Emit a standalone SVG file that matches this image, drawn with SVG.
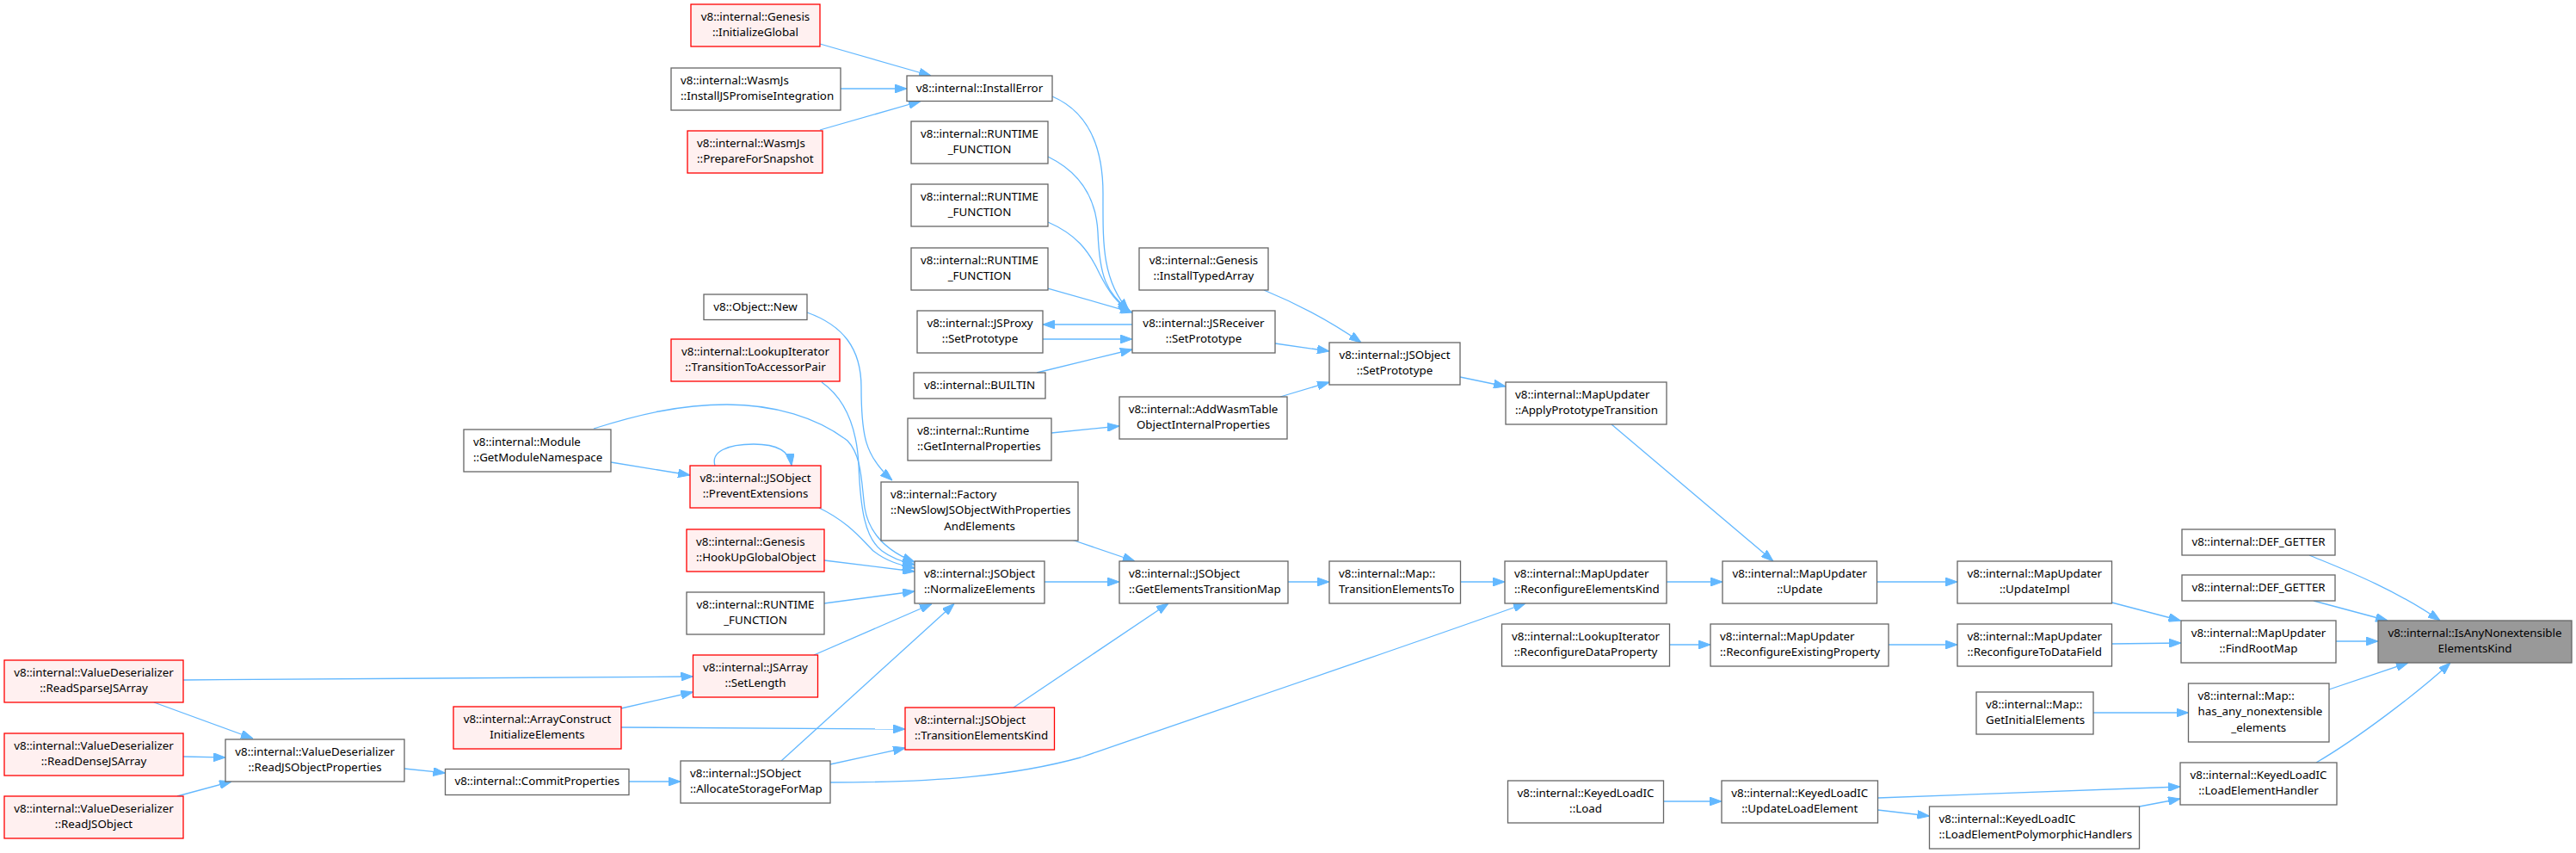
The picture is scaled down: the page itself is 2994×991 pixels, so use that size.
<svg xmlns="http://www.w3.org/2000/svg" width="2994" height="991" viewBox="0 0 2994 991">
<style>
.node rect{fill:#ffffff;stroke:#666666;stroke-width:1.3}
.red rect{fill:#fff0f0;stroke:#ff0000}
.root rect{fill:#999999;stroke:#666666}
text{font-family:"Noto Sans","Open Sans",sans-serif;font-size:13.33px;fill:#000000}
.c{text-anchor:middle}
.l{text-anchor:start}
#edges path{fill:none;stroke:#63b8ff;stroke-width:1.3}
</style>
<defs>
<marker id="ah" viewBox="0 0 14 10" refX="14" refY="5" markerWidth="14" markerHeight="10" markerUnits="userSpaceOnUse" orient="auto">
<path d="M0,0 L14,5 L0,10 Z" fill="#63b8ff" stroke="#63b8ff" stroke-width="1"/>
</marker>
</defs>
<rect x="0" y="0" width="2994" height="991" fill="#ffffff"/>
<g id="edges" marker-end="url(#ah)">
<path marker-end="url(#ah)" d="M953,51 L1082,88"/>
<path marker-end="url(#ah)" d="M977,103 L1054,103"/>
<path marker-end="url(#ah)" d="M953,151 L1070,117.5"/>
<path marker-end="url(#ah)" d="M1223,112 C1265,130 1282,170 1282,225 C1282,280 1280,325 1312,361"/>
<path marker-end="url(#ah)" d="M1218,182 C1255,200 1274,230 1276,270 C1278,320 1285,340 1313,361"/>
<path marker-end="url(#ah)" d="M1218,258 C1250,272 1265,290 1278,318 C1288,338 1298,352 1314,362"/>
<path marker-end="url(#ah)" d="M1218,335 L1316,363"/>
<path marker-end="url(#ah)" d="M1316,377 L1212,377"/>
<path marker-end="url(#ah)" d="M1212,394 L1316,394"/>
<path marker-end="url(#ah)" d="M1205,433 L1316,406"/>
<path marker-end="url(#ah)" d="M1482,399 L1545,408"/>
<path marker-end="url(#ah)" d="M1469,337 Q1530,362 1582,398"/>
<path marker-end="url(#ah)" d="M1488,461 L1545,444"/>
<path marker-end="url(#ah)" d="M1222,503 L1301,495"/>
<path marker-end="url(#ah)" d="M1697,438 L1750,449"/>
<path marker-end="url(#ah)" d="M1873,493 L2061,652"/>
<path marker-end="url(#ah)" d="M2181.5,676 L2275,676"/>
<path marker-end="url(#ah)" d="M1937,676 L2002,676"/>
<path marker-end="url(#ah)" d="M1697.5,676 L1749,676"/>
<path marker-end="url(#ah)" d="M1497,676 L1545,676"/>
<path marker-end="url(#ah)" d="M1214,676 L1301,676"/>
<path marker-end="url(#ah)" d="M1247,627.5 L1319,652"/>
<path marker-end="url(#ah)" d="M1178,822 L1358,701"/>
<path marker-end="url(#ah)" d="M965,909 C1090,909 1180,901 1256,880 C1400,830 1660,742 1773,701"/>
<path marker-end="url(#ah)" d="M731,908 L791,908"/>
<path marker-end="url(#ah)" d="M470,893 L517.5,898"/>
<path marker-end="url(#ah)" d="M179,816 L294,858"/>
<path marker-end="url(#ah)" d="M213,879 L262,880"/>
<path marker-end="url(#ah)" d="M206,925 L269,908"/>
<path marker-end="url(#ah)" d="M213,790 L805.5,786"/>
<path marker-end="url(#ah)" d="M722,823 L805.5,804"/>
<path marker-end="url(#ah)" d="M722,845 L1052,847"/>
<path marker-end="url(#ah)" d="M965,888 L1052,869"/>
<path marker-end="url(#ah)" d="M908,884 L1109,701.5"/>
<path marker-end="url(#ah)" d="M946,761 L1083,701.5"/>
<path marker-end="url(#ah)" d="M958,701 L1063,687"/>
<path marker-end="url(#ah)" d="M958,651 L1063,664"/>
<path marker-end="url(#ah)" d="M952,590 C985,606 1000,625 1015,640 C1030,652 1045,656 1063,660"/>
<path marker-end="url(#ah)" d="M955,444 C985,465 996,500 998,540 C1000,590 1005,625 1025,640 C1037,649 1050,653 1063,656"/>
<path marker-end="url(#ah)" d="M690,498 C740,482 790,470 845,470 C900,470 950,485 985,512 C1002,530 1001,560 1005,590 C1010,620 1030,640 1063,653"/>
<path marker-end="url(#ah)" d="M938,363 C980,378 1001,405 1001,450 C1001,505 1005,530 1037,558"/>
<path marker-end="url(#ah)" d="M710,537 L802,552"/>
<path marker-end="url(#ah)" d="M831,541 C826,525 845,516 876,516 C905,516 918,525 920,541"/>
<path marker-end="url(#ah)" d="M2454.5,700 L2534.5,721"/>
<path marker-end="url(#ah)" d="M2454.5,748 L2535,747"/>
<path marker-end="url(#ah)" d="M2195,749 L2275,749"/>
<path marker-end="url(#ah)" d="M1940.5,749 L1988,749"/>
<path marker-end="url(#ah)" d="M2715,745 L2764,745"/>
<path marker-end="url(#ah)" d="M2684,645 C2715,658 2780,682 2836,721"/>
<path marker-end="url(#ah)" d="M2689,698 L2775,721"/>
<path marker-end="url(#ah)" d="M2707,801 L2799,770"/>
<path marker-end="url(#ah)" d="M2692,886 C2740,858 2810,805 2848,770"/>
<path marker-end="url(#ah)" d="M2433,828 L2543.5,828"/>
<path marker-end="url(#ah)" d="M2182.5,927 L2534,914"/>
<path marker-end="url(#ah)" d="M2182.5,941 L2242.5,948"/>
<path marker-end="url(#ah)" d="M2486.5,937 L2534,928"/>
<path marker-end="url(#ah)" d="M1933.5,931 L2001,931"/>
</g>
<g id="n1" class="node red"><rect x="803" y="5" width="150" height="49"/><text class="c" x="878" y="23.7">v8::internal::Genesis</text><text class="c" x="878" y="42.4">::InitializeGlobal</text></g>
<g id="n2" class="node"><rect x="780" y="79" width="197" height="49"/><text class="l" x="791" y="97.7">v8::internal::WasmJs</text><text class="l" x="791" y="116.4">::InstallJSPromiseIntegration</text></g>
<g id="n3" class="node"><rect x="1054" y="88" width="169" height="29.5"/><text class="c" x="1138.5" y="106.7">v8::internal::InstallError</text></g>
<g id="n4" class="node red"><rect x="799" y="152" width="157" height="49"/><text class="l" x="810" y="170.7">v8::internal::WasmJs</text><text class="l" x="810" y="189.4">::PrepareForSnapshot</text></g>
<g id="n5" class="node"><rect x="1059" y="141" width="159" height="49"/><text class="c" x="1138.5" y="159.7">v8::internal::RUNTIME</text><text class="c" x="1138.5" y="178.4">_FUNCTION</text></g>
<g id="n6" class="node"><rect x="1059" y="214" width="159" height="49"/><text class="c" x="1138.5" y="232.7">v8::internal::RUNTIME</text><text class="c" x="1138.5" y="251.4">_FUNCTION</text></g>
<g id="n7" class="node"><rect x="1059" y="288" width="159" height="49"/><text class="c" x="1138.5" y="306.7">v8::internal::RUNTIME</text><text class="c" x="1138.5" y="325.4">_FUNCTION</text></g>
<g id="n8" class="node"><rect x="1324" y="288" width="150" height="49"/><text class="c" x="1399" y="306.7">v8::internal::Genesis</text><text class="c" x="1399" y="325.4">::InstallTypedArray</text></g>
<g id="n9" class="node"><rect x="818" y="342" width="120" height="29.5"/><text class="c" x="878" y="360.7">v8::Object::New</text></g>
<g id="n10" class="node"><rect x="1066" y="361" width="146" height="49"/><text class="c" x="1139" y="379.7">v8::internal::JSProxy</text><text class="c" x="1139" y="398.4">::SetPrototype</text></g>
<g id="n11" class="node"><rect x="1316" y="361" width="166" height="49"/><text class="c" x="1399" y="379.7">v8::internal::JSReceiver</text><text class="c" x="1399" y="398.4">::SetPrototype</text></g>
<g id="n12" class="node red"><rect x="780" y="394" width="196" height="49"/><text class="c" x="878" y="412.7">v8::internal::LookupIterator</text><text class="c" x="878" y="431.4">::TransitionToAccessorPair</text></g>
<g id="n13" class="node"><rect x="1062" y="433" width="153" height="30"/><text class="c" x="1138.5" y="452">v8::internal::BUILTIN</text></g>
<g id="n14" class="node"><rect x="1301" y="461" width="195" height="49"/><text class="c" x="1398.5" y="479.7">v8::internal::AddWasmTable</text><text class="c" x="1398.5" y="498.4">ObjectInternalProperties</text></g>
<g id="n15" class="node"><rect x="1055" y="486" width="167" height="49"/><text class="l" x="1066" y="504.7">v8::internal::Runtime</text><text class="l" x="1066" y="523.4">::GetInternalProperties</text></g>
<g id="n16" class="node"><rect x="1545" y="398" width="152" height="49"/><text class="c" x="1621" y="416.7">v8::internal::JSObject</text><text class="c" x="1621" y="435.4">::SetPrototype</text></g>
<g id="n17" class="node"><rect x="1750" y="444" width="187" height="49"/><text class="l" x="1761" y="462.7">v8::internal::MapUpdater</text><text class="l" x="1761" y="481.4">::ApplyPrototypeTransition</text></g>
<g id="n18" class="node"><rect x="539" y="499" width="171" height="49"/><text class="l" x="550" y="517.7">v8::internal::Module</text><text class="l" x="550" y="536.4">::GetModuleNamespace</text></g>
<g id="n25" class="node red"><rect x="802" y="541" width="152" height="49"/><text class="c" x="878" y="559.7">v8::internal::JSObject</text><text class="c" x="878" y="578.4">::PreventExtensions</text></g>
<g id="n26" class="node"><rect x="1024" y="560" width="229" height="68"/><text class="l" x="1035" y="578.7">v8::internal::Factory</text><text class="l" x="1035" y="597.4">::NewSlowJSObjectWithProperties</text><text class="c" x="1138.5" y="616.1">AndElements</text></g>
<g id="n27" class="node red"><rect x="798" y="615" width="160" height="49"/><text class="l" x="809" y="633.7">v8::internal::Genesis</text><text class="l" x="809" y="652.4">::HookUpGlobalObject</text></g>
<g id="n28" class="node"><rect x="1063" y="652" width="151" height="49"/><text class="c" x="1138.5" y="670.7">v8::internal::JSObject</text><text class="c" x="1138.5" y="689.4">::NormalizeElements</text></g>
<g id="n29" class="node"><rect x="1301" y="652" width="196" height="49"/><text class="l" x="1312" y="670.7">v8::internal::JSObject</text><text class="l" x="1312" y="689.4">::GetElementsTransitionMap</text></g>
<g id="n30" class="node"><rect x="798" y="688" width="160" height="49"/><text class="c" x="878" y="706.7">v8::internal::RUNTIME</text><text class="c" x="878" y="725.4">_FUNCTION</text></g>
<g id="n31" class="node red"><rect x="805.5" y="761" width="145" height="49"/><text class="c" x="878" y="779.7">v8::internal::JSArray</text><text class="c" x="878" y="798.4">::SetLength</text></g>
<g id="n19" class="node red"><rect x="5" y="767" width="208" height="49"/><text class="c" x="109" y="785.7">v8::internal::ValueDeserializer</text><text class="c" x="109" y="804.4">::ReadSparseJSArray</text></g>
<g id="n23" class="node red"><rect x="527" y="821" width="195" height="49"/><text class="c" x="624.5" y="839.7">v8::internal::ArrayConstruct</text><text class="c" x="624.5" y="858.4">InitializeElements</text></g>
<g id="n32" class="node red"><rect x="1052" y="822" width="173.5" height="49"/><text class="l" x="1063" y="840.7">v8::internal::JSObject</text><text class="l" x="1063" y="859.4">::TransitionElementsKind</text></g>
<g id="n20" class="node red"><rect x="5" y="852" width="208" height="49"/><text class="c" x="109" y="870.7">v8::internal::ValueDeserializer</text><text class="c" x="109" y="889.4">::ReadDenseJSArray</text></g>
<g id="n22" class="node"><rect x="262" y="859" width="208" height="49"/><text class="c" x="366" y="877.7">v8::internal::ValueDeserializer</text><text class="c" x="366" y="896.4">::ReadJSObjectProperties</text></g>
<g id="n33" class="node"><rect x="791" y="884" width="174" height="49"/><text class="l" x="802" y="902.7">v8::internal::JSObject</text><text class="l" x="802" y="921.4">::AllocateStorageForMap</text></g>
<g id="n24" class="node"><rect x="517.5" y="893.5" width="213.5" height="30"/><text class="c" x="624.25" y="912.2">v8::internal::CommitProperties</text></g>
<g id="n21" class="node red"><rect x="5" y="925" width="208" height="49"/><text class="c" x="109" y="943.7">v8::internal::ValueDeserializer</text><text class="c" x="109" y="962.4">::ReadJSObject</text></g>
<g id="n34" class="node"><rect x="1545" y="652" width="152.5" height="49"/><text class="l" x="1556" y="670.7">v8::internal::Map::</text><text class="l" x="1556" y="689.4">TransitionElementsTo</text></g>
<g id="n35" class="node"><rect x="1749" y="652" width="188" height="49"/><text class="l" x="1760" y="670.7">v8::internal::MapUpdater</text><text class="l" x="1760" y="689.4">::ReconfigureElementsKind</text></g>
<g id="n36" class="node"><rect x="2002" y="652" width="179.5" height="49"/><text class="c" x="2091.75" y="670.7">v8::internal::MapUpdater</text><text class="c" x="2091.75" y="689.4">::Update</text></g>
<g id="n37" class="node"><rect x="1745.5" y="725" width="195" height="49"/><text class="c" x="1843" y="743.7">v8::internal::LookupIterator</text><text class="c" x="1843" y="762.4">::ReconfigureDataProperty</text></g>
<g id="n38" class="node"><rect x="1988" y="725" width="207" height="49"/><text class="l" x="1999" y="743.7">v8::internal::MapUpdater</text><text class="l" x="1999" y="762.4">::ReconfigureExistingProperty</text></g>
<g id="n39" class="node"><rect x="1752.5" y="907" width="181" height="49"/><text class="c" x="1843" y="925.7">v8::internal::KeyedLoadIC</text><text class="c" x="1843" y="944.4">::Load</text></g>
<g id="n40" class="node"><rect x="2001" y="907" width="181.5" height="49"/><text class="c" x="2091.75" y="925.7">v8::internal::KeyedLoadIC</text><text class="c" x="2091.75" y="944.4">::UpdateLoadElement</text></g>
<g id="n43" class="node"><rect x="2275" y="652" width="179.5" height="49"/><text class="c" x="2364.75" y="670.7">v8::internal::MapUpdater</text><text class="c" x="2364.75" y="689.4">::UpdateImpl</text></g>
<g id="n44" class="node"><rect x="2275" y="725" width="179.5" height="49"/><text class="c" x="2364.75" y="743.7">v8::internal::MapUpdater</text><text class="c" x="2364.75" y="762.4">::ReconfigureToDataField</text></g>
<g id="n41" class="node"><rect x="2536" y="615" width="178" height="30"/><text class="c" x="2625" y="634">v8::internal::DEF_GETTER</text></g>
<g id="n42" class="node"><rect x="2536" y="668" width="178" height="30"/><text class="c" x="2625" y="687">v8::internal::DEF_GETTER</text></g>
<g id="n45" class="node"><rect x="2535" y="721" width="180" height="49"/><text class="c" x="2625" y="739.7">v8::internal::MapUpdater</text><text class="c" x="2625" y="758.4">::FindRootMap</text></g>
<g id="n46" class="node root"><rect x="2764" y="721" width="225" height="49"/><text class="c" x="2876.5" y="739.7">v8::internal::IsAnyNonextensible</text><text class="c" x="2876.5" y="758.4">ElementsKind</text></g>
<g id="n47" class="node"><rect x="2297" y="804" width="136" height="49"/><text class="l" x="2308" y="822.7">v8::internal::Map::</text><text class="l" x="2308" y="841.4">GetInitialElements</text></g>
<g id="n48" class="node"><rect x="2543.5" y="794" width="163.5" height="68"/><text class="l" x="2554.5" y="812.7">v8::internal::Map::</text><text class="l" x="2554.5" y="831.4">has_any_nonextensible</text><text class="c" x="2625.25" y="850.1">_elements</text></g>
<g id="n49" class="node"><rect x="2534" y="886" width="182" height="49"/><text class="c" x="2625" y="904.7">v8::internal::KeyedLoadIC</text><text class="c" x="2625" y="923.4">::LoadElementHandler</text></g>
<g id="n50" class="node"><rect x="2242.5" y="937" width="244" height="49"/><text class="l" x="2253.5" y="955.7">v8::internal::KeyedLoadIC</text><text class="l" x="2253.5" y="974.4">::LoadElementPolymorphicHandlers</text></g>
</svg>
